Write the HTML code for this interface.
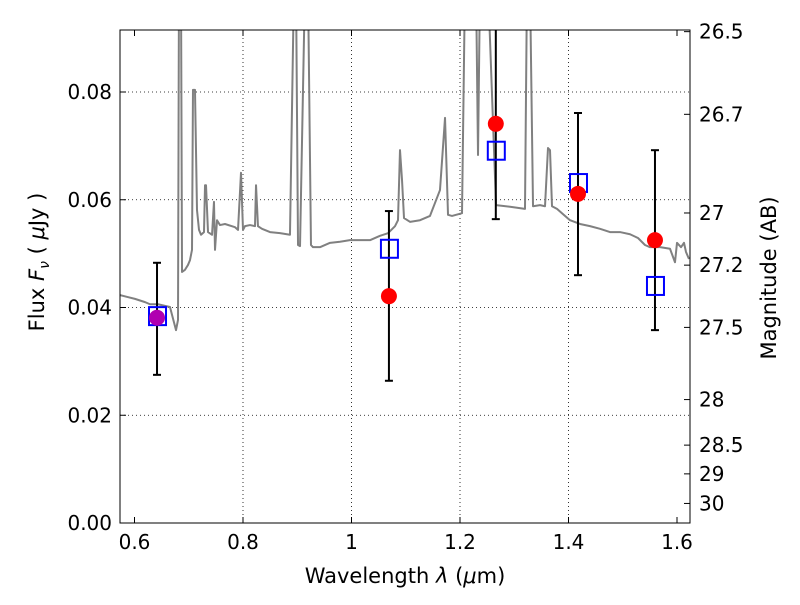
<!DOCTYPE html>
<html><head><meta charset="utf-8"><style>
body{margin:0;background:#fff;width:800px;height:600px;overflow:hidden}
svg text{font-family:"DejaVu Sans","Liberation Sans",sans-serif;fill:#000}
</style></head><body>
<svg id="chart" width="800" height="600" xmlns="http://www.w3.org/2000/svg">
<defs><clipPath id="clip"><rect x="120" y="30" width="570" height="493"/></clipPath></defs>
<g id="grid"></g>
<g id="spec" clip-path="url(#clip)"></g>
<g id="pts" clip-path="url(#clip)"></g>
<rect x="120" y="30" width="570" height="493" fill="none" stroke="#000" stroke-width="1"/>
<g id="axes"></g>
<text x="405" y="583" font-size="21" text-anchor="middle">Wavelength  <tspan font-style="italic">λ</tspan> (<tspan font-style="italic">μ</tspan>m)</text>
<text transform="translate(44,262) rotate(-90)" font-size="21" text-anchor="middle">Flux  <tspan font-style="italic">F</tspan><tspan font-style="italic" font-size="14" dy="5">ν</tspan><tspan dy="-5">  ( </tspan><tspan font-style="italic">μ</tspan>Jy )</text>
<text transform="translate(776,278) rotate(-90)" font-size="21" text-anchor="middle">Magnitude (AB)</text>
</svg>
<script>
const specWl=[0.5733,0.6009,0.6194,0.6286,0.6433,0.6562,0.6654,0.6765,0.6802,0.6820,0.6857,0.6876,0.6931,0.6986,0.7023,0.7060,0.7078,0.7115,0.7152,0.7189,0.7226,0.7281,0.7300,0.7318,0.7355,0.7429,0.7465,0.7484,0.7521,0.7576,0.7668,0.7853,0.7908,0.7963,0.8000,0.8037,0.8129,0.8221,0.8240,0.8276,0.8350,0.8498,0.8682,0.8866,0.8940,0.8977,0.9014,0.9051,0.9143,0.9198,0.9253,0.9290,0.9419,0.9604,0.9788,0.9972,1.0157,1.0341,1.0525,1.0673,1.0802,1.0857,1.0894,1.0931,1.0968,1.1078,1.1263,1.1447,1.1631,1.1724,1.1779,1.1853,1.2037,1.2092,1.2147,1.2221,1.2295,1.2332,1.2369,1.2424,1.2516,1.2664,1.2922,1.3198,1.3235,1.3290,1.3346,1.3475,1.3567,1.3622,1.3659,1.3696,1.3788,1.3935,1.4028,1.4212,1.4396,1.4581,1.4765,1.4949,1.5134,1.5281,1.5410,1.5502,1.5687,1.5871,1.5963,1.6000,1.6074,1.6129,1.6166,1.6221];
const specFlux=[0.0423,0.0416,0.0410,0.0406,0.0406,0.0403,0.0401,0.0358,0.0377,0.1,0.1,0.0466,0.0470,0.0479,0.0488,0.0507,0.0804,0.0804,0.0581,0.0544,0.0535,0.0540,0.0627,0.0627,0.0540,0.0535,0.0596,0.0507,0.0562,0.0553,0.0555,0.0549,0.0544,0.0650,0.0544,0.0551,0.0553,0.0551,0.0627,0.0551,0.0546,0.0540,0.0538,0.0535,0.1,0.1,0.0516,0.0514,0.1,0.1,0.0516,0.0512,0.0512,0.0520,0.0522,0.0525,0.0525,0.0525,0.0533,0.0538,0.0551,0.0562,0.0692,0.0637,0.0566,0.0559,0.0562,0.0570,0.0618,0.0752,0.0572,0.0570,0.0575,0.1,0.1,0.1,0.1,0.0683,0.1,0.1,0.1,0.0590,0.0587,0.0583,0.1,0.1,0.0588,0.0590,0.0588,0.0696,0.0692,0.0588,0.0583,0.0570,0.0562,0.0555,0.0551,0.0546,0.0540,0.0540,0.0536,0.0529,0.0516,0.0512,0.0512,0.0509,0.0484,0.0520,0.0512,0.0520,0.0503,0.0490];
const obsWl=[0.6415,1.069,1.266,1.4175,1.5594];
const obsFlux=[0.0381,0.0421,0.0741,0.0611,0.0525];
const errLo=[0.0275,0.0264,0.0564,0.0460,0.0358];
const errHi=[0.0483,0.0579,0.1000,0.0761,0.0692];
const modelFlux=[0.0384,0.0509,0.0691,0.0631,0.0440];
const xTicks=[0.6,0.8,1,1.2,1.4,1.6];
const xTickLabels=["0.6","0.8","1","1.2","1.4","1.6"];
const yTicks=[0,0.02,0.04,0.06,0.08];
const yTickLabels=["0.00","0.02","0.04","0.06","0.08"];
const magTicks=[26.5,26.7,27,27.2,27.5,28,28.5,29,30];
const magTickLabels=["26.5","26.7","27","27.2","27.5","28","28.5","29","30"];

const NS="http://www.w3.org/2000/svg";
const X=w=>134.5+(w-0.6)*542.5;
const Y=f=>523-f*5387.5;
const magToFlux=m=>Math.pow(10,(23.9-m)/2.5);
function mk(tag,attrs,parent){const e=document.createElementNS(NS,tag);for(const k in attrs)e.setAttribute(k,attrs[k]);parent.appendChild(e);return e;}
const grid=document.getElementById('grid'),axes=document.getElementById('axes'),spec=document.getElementById('spec'),pts=document.getElementById('pts');
xTicks.forEach((t,i)=>{const x=X(t);
 if(t>0.6&&t<1.6){const g=mk('line',{x1:x,x2:x,y1:30,y2:523,stroke:'#000','stroke-dasharray':'1,3','stroke-width':0.8},grid);
 
 }
 mk('line',{x1:x,x2:x,y1:523,y2:517,stroke:'#000'},axes);
 mk('line',{x1:x,x2:x,y1:30,y2:36,stroke:'#000'},axes);
 const tx=mk('text',{x:x,y:549,'font-size':20,'text-anchor':'middle'},axes);tx.textContent=xTickLabels[i];
 
 
});
yTicks.forEach((t,i)=>{const y=Y(t);
 if(t>0){const g=mk('line',{x1:120,x2:690,y1:y,y2:y,stroke:'#000','stroke-dasharray':'1,3','stroke-width':0.8},grid);
 
 }
 mk('line',{x1:120,x2:126,y1:y,y2:y,stroke:'#000'},axes);
 const tx=mk('text',{x:112,y:y+7,'font-size':20,'text-anchor':'end'},axes);tx.textContent=yTickLabels[i];
 
 
});
magTicks.forEach((m,i)=>{const y=Y(magToFlux(m));
 mk('line',{x1:684,x2:690,y1:y,y2:y,stroke:'#000'},axes);
 const tx=mk('text',{x:699,y:y+7,'font-size':20},axes);tx.textContent=magTickLabels[i];
 
 
});
const line=mk('polyline',{points:specWl.map((w,i)=>X(w)+','+Y(specFlux[i])).join(' '),fill:'none',stroke:'#808080','stroke-width':2,'stroke-linejoin':'round'},spec);


obsWl.forEach((w,i)=>{const x=X(w);
 const e=mk('g',{},pts);
 
 
 mk('line',{x1:x,x2:x,y1:Y(errLo[i]),y2:Y(errHi[i]),stroke:'#000','stroke-width':2},e);
 mk('line',{x1:x-4,x2:x+4,y1:Y(errLo[i]),y2:Y(errLo[i]),stroke:'#000','stroke-width':2},e);
 mk('line',{x1:x-4,x2:x+4,y1:Y(errHi[i]),y2:Y(errHi[i]),stroke:'#000','stroke-width':2},e);
});
obsWl.forEach((w,i)=>{
 const s=mk('rect',{x:X(w)-8,y:Y(modelFlux[i])-9,width:17,height:18,fill:'none',stroke:'#0000ff','stroke-width':2},pts);
 
 
});
obsWl.forEach((w,i)=>{
 const c=mk('circle',{cx:X(w),cy:Y(obsFlux[i]),r:8,fill:i===0?'#b000b0':'#ff0000'},pts);
 
 
});
</script>
</body></html>
